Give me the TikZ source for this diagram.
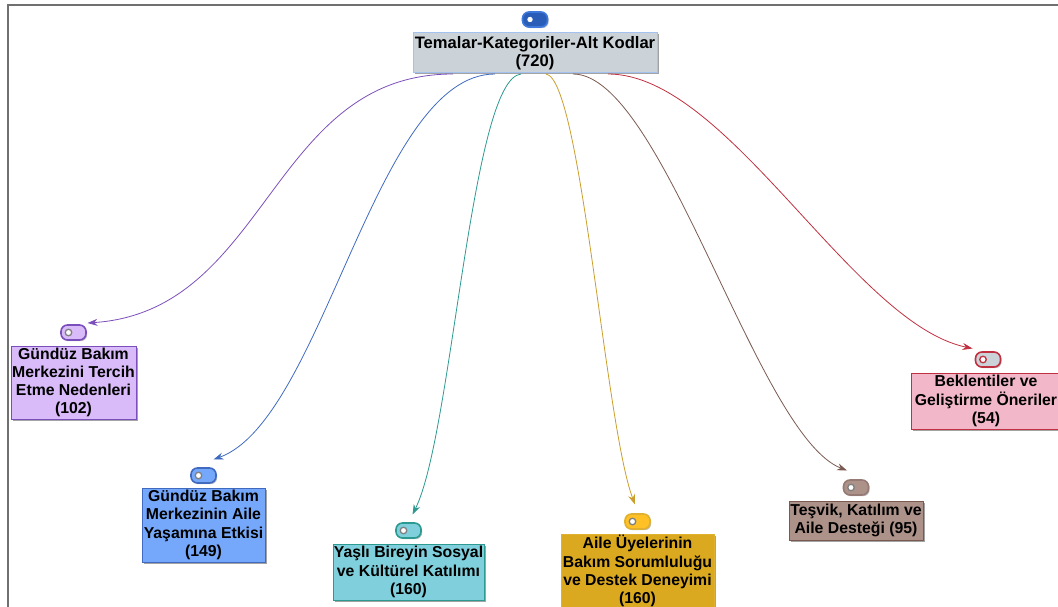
\documentclass[tikz,border=0pt]{standalone}
\usepackage{fontspec}
\setmainfont{Liberation Sans}
\usetikzlibrary{arrows.meta, positioning, shadows}
\definecolor{t0fill}{HTML}{CBD3D8}
\definecolor{t0line}{HTML}{A3C2F0}
\definecolor{t0tag}{HTML}{2A5DB8}
\definecolor{t0edge}{HTML}{3F78DC}
\definecolor{t1fill}{HTML}{D9BBF9}
\definecolor{t1line}{HTML}{7B4FBB}
\definecolor{t2fill}{HTML}{75A8FA}
\definecolor{t2line}{HTML}{3F6AC0}
\definecolor{t3fill}{HTML}{7FD0DC}
\definecolor{t3line}{HTML}{2C9A90}
\definecolor{t4fill}{HTML}{DBA91F}
\definecolor{t4line}{HTML}{E0B030}
\definecolor{t4tag}{HTML}{FFC125}
\definecolor{t5fill}{HTML}{AD9289}
\definecolor{t5line}{HTML}{7A5A50}
\definecolor{t6fill}{HTML}{F2B8C9}
\definecolor{t6line}{HTML}{C03040}
\definecolor{framegray}{HTML}{707070}

\begin{document}
\begin{tikzpicture}[
    x=1pt, y=-1pt,
    temabox/.style={
        rectangle,
        draw=#1line,
        fill=#1fill,
        line width=1pt,
        outer sep=0pt,
        align=center,
        inner sep=0pt,
        font=\fontsize{15.8}{18.2}\selectfont\bfseries,
        drop shadow={shadow xshift=1.5pt, shadow yshift=-1.5pt, fill=black!60, opacity=0.6}
    },
    tagbox/.style 2 args={
        rectangle,
        rounded corners=6.5pt,
        minimum width=25pt,
        minimum height=15pt,
        inner sep=0pt,
        outer sep=0pt,
        draw=#2,
        fill=#1,
        line width=1.6pt,
        drop shadow={shadow xshift=1.2pt, shadow yshift=-1.2pt, fill=black!50, opacity=0.5}
    },
    taghole/.style={
        circle,
        minimum size=6.5pt,
        inner sep=0pt,
        draw=#1,
        fill=white,
        line width=1.3pt
    },
    tagarrow/.style={
        -{Stealth[length=10pt,width=7pt]},
        line width=0.8pt,
        draw=#1,
        #1
    }
]
\path[use as bounding box, clip] (0,0) rectangle (1058,607);

% Frame
\draw[framegray, line width=1.2pt] (8,607) -- (8,5) -- (1058,5);

% Main components
\node[temabox=t0, font=\fontsize{16.6}{18.2}\selectfont\bfseries, minimum width=244pt, minimum height=40pt] (root) at (535,53) {Temalar-Kategoriler-Alt Kodlar\\(720)};
\node[temabox=t1, minimum width=125pt, minimum height=73pt] (gunduz) at (73.5,382.5) {Gündüz Bakım\\Merkezini Tercih\\Etme Nedenleri\\(102)};
\node[temabox=t2, minimum width=123pt, minimum height=74pt] (aile) at (203.5,525) {Gündüz Bakım\\Merkezinin Aile\\Yaşamına Etkisi\\(149)};
\node[temabox=t3, minimum width=151pt, minimum height=56pt] (yasli) at (408.5,572) {Yaşlı Bireyin Sosyal\\ve Kültürel Katılımı\\(160)};
\node[temabox=t4, minimum width=153pt, minimum height=74pt] (bakim) at (637.5,571) {Aile Üyelerinin\\Bakım Sorumluluğu\\ve Destek Deneyimi\\(160)};
\node[temabox=t5, minimum width=134pt, minimum height=39pt] (tesvik) at (856,520.5) {Teşvik, Katılım ve\\Aile Desteği (95)};
\node[temabox=t6, minimum width=150pt, minimum height=56pt] (beklenti) at (986,401) {Beklentiler ve\\Geliştirme Öneriler\\(54)};

% Tags
\node[tagbox={t0tag}{t0edge}, above=6pt of root] (tag0) {};
\node[tagbox={t1fill}{t1line}, above=6pt of gunduz] (tag1) {};
\node[tagbox={t2fill}{t2line}, above=5pt of aile] (tag2) {};
\node[tagbox={t3fill}{t3line}, above=6pt of yasli] (tag3) {};
\node[tagbox={t4tag}{t4line}, above=5pt of bakim] (tag4) {};
\node[tagbox={t5fill}{t5line!80}, above=6pt of tesvik] (tag5) {};
\node[tagbox={t0fill}{t6line}, above=6pt of beklenti, xshift=2pt] (tag6) {};
\node[taghole=white, minimum size=4pt] at ([xshift=-5pt]tag0.center) (hole0) {};
\node[taghole=gray] at ([xshift=-5pt]tag1.center) (hole1) {};
\node[taghole=gray] at ([xshift=-5pt]tag2.center) (hole2) {};
\node[taghole=gray] at ([xshift=-5pt]tag3.center) (hole3) {};
\node[taghole=gray] at ([xshift=-5pt]tag4.center) (hole4) {};
\node[taghole=gray] at ([xshift=-5pt]tag5.center) (hole5) {};
\node[taghole=t6line] at ([xshift=-5pt]tag6.center) (hole6) {};

% Arrows
\draw[tagarrow=t1line] ([xshift=40pt,yshift=-1pt]root.south west) .. controls +(-183,0) and +(181,-12) .. ([xshift=1.5pt,yshift=2pt]tag1.north east);
\draw[tagarrow=t2line] ([xshift=82pt,yshift=-1pt]root.south west) .. controls +(-120,0) and +(110,-40) .. ([xshift=10pt,yshift=8.5pt]tag2.north);
\draw[tagarrow=t3line] ([xshift=108pt,yshift=-1pt]root.south west) .. controls +(-50,5) and +(40,-80) .. ([xshift=4pt,yshift=8.5pt]tag3.north);
\draw[tagarrow=t4line!90!black] ([xshift=133pt,yshift=-1pt]root.south west) .. controls +(35,5) and +(-30,-80) .. ([xshift=-2.5pt,yshift=9.5pt]tag4.north);
\draw[tagarrow=t5line] ([xshift=160pt,yshift=-1pt]root.south west) .. controls +(90,0) and +(-90,-35) .. ([xshift=-9pt,yshift=9.5pt]tag5.north);
\draw[tagarrow=t6line] ([xshift=195pt,yshift=-1pt]root.south west) .. controls +(120,0) and +(-120,-25) .. ([xshift=-3pt,yshift=3.5pt]tag6.north west);
\end{tikzpicture}
\end{document}
